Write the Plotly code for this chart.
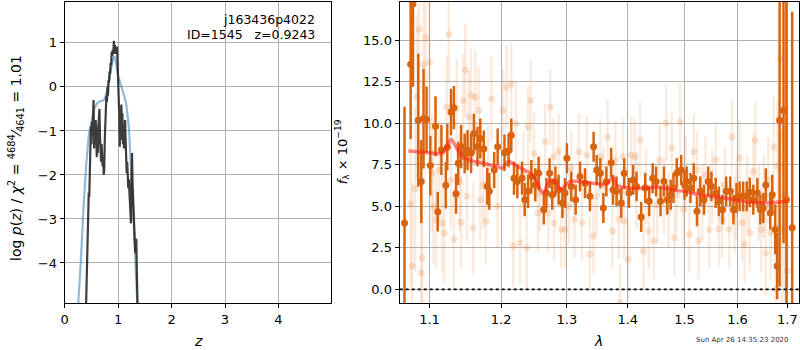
import plotly.graph_objects as go

# ---------------- Left panel: p(z) ----------------
z_fit = [0.20, 0.26, 0.30, 0.35, 0.40, 0.45, 0.50, 0.55, 0.60, 0.65, 0.70, 0.75, 0.80,
         0.85, 0.90, 0.93, 0.96, 1.00, 1.05, 1.10, 1.15, 1.20, 1.25, 1.30, 1.35, 1.40]
logp_fit = [-6.0, -4.9, -4.0, -2.8, -1.8, -1.1, -0.75, -0.5, -0.38, -0.33, -0.32, -0.28, -0.05,
            0.3, 0.62, 0.70, 0.55, 0.25, 0.02, -0.15, -0.37, -0.9, -2.0, -3.3, -4.6, -6.0]

z_chi = [0.38, 0.40, 0.42, 0.43, 0.44, 0.45, 0.46, 0.47, 0.48, 0.49, 0.50, 0.51, 0.52, 0.53,
         0.54, 0.55, 0.56, 0.57, 0.58, 0.59, 0.60, 0.61, 0.62, 0.63, 0.64, 0.65, 0.66, 0.67,
         0.68, 0.69, 0.70, 0.71, 0.72, 0.73, 0.74, 0.75, 0.76, 0.77, 0.78, 0.79, 0.80, 0.81,
         0.82, 0.83, 0.84, 0.85, 0.86, 0.87, 0.88, 0.89, 0.90, 0.91, 0.92, 0.93, 0.94, 0.95,
         0.96, 0.97, 0.98, 0.99, 1.00, 1.01, 1.02, 1.03, 1.04, 1.05, 1.06, 1.07, 1.08, 1.09,
         1.10, 1.11, 1.12, 1.13, 1.14, 1.15, 1.16, 1.17, 1.18, 1.19, 1.20, 1.21, 1.22, 1.23,
         1.24, 1.25, 1.26, 1.27, 1.28, 1.29, 1.30, 1.31, 1.32, 1.33, 1.34, 1.35, 1.36, 1.37, 1.38]
logp_chi = [-6.0, -4.9, -3.6, -2.8, -2.9, -2.4, -2.5, -1.6, -1.2, -0.9, -1.3, -0.8, -1.1, -0.6,
            -0.3, -1.4, -0.9, -1.2, -0.75, -1.0, -1.6, -1.2, -1.5, -0.9, -0.6, -0.5, -1.1, -1.5,
            -1.7, -1.3, -1.5, -1.8, -1.6, -2.0, -1.9, -1.2, -0.75, -0.4, -0.2, -0.35, 0.0, -0.2,
            0.15, 0.1, 0.35, 0.3, 0.55, 0.5, 0.8, 0.7, 0.85, 0.75, 1.05, 0.85, 0.95, 0.75,
            0.9, 0.8, 0.92, 0.6, 0.3, 0.15, -0.6, -1.36, -0.8, -1.2, -0.4, -0.9, -0.6, -1.3,
            -1.0, -1.4, -0.9, -0.75, -1.2, -1.6, -1.96, -1.7, -2.0, -2.3, -2.1, -2.4, -2.8, -2.7,
            -3.1, -2.0, -1.5, -2.2, -2.6, -2.9, -3.3, -3.6, -3.77, -3.5, -3.45, -4.2, -4.6, -5.0, -6.0]

zticks = [0, 1, 2, 3, 4]
pticks = [-4, -3, -2, -1, 0, 1]

# ---------------- Right panel: spectrum ----------------
wave_model = [1.072, 1.099, 1.117, 1.124, 1.129, 1.136, 1.144, 1.153, 1.171, 1.195, 1.202, 1.210,
              1.217, 1.229, 1.244, 1.254, 1.260, 1.264, 1.269, 1.275, 1.282, 1.290, 1.296, 1.305,
              1.320, 1.342, 1.365, 1.371, 1.376, 1.380, 1.390, 1.400, 1.430, 1.453, 1.477, 1.500,
              1.525, 1.550, 1.575, 1.600, 1.627, 1.653, 1.680, 1.700]
flux_model = [8.33, 8.23, 8.19, 8.59, 9.02, 8.59, 7.99, 7.79, 7.63, 7.39, 7.29, 7.69,
              7.59, 7.29, 6.99, 6.49, 5.90, 5.80, 6.29, 6.59, 6.43, 6.00, 6.20, 6.49,
              6.49, 6.39, 6.35, 6.59, 6.69, 6.29, 6.16, 6.10, 6.10, 6.16, 6.00, 5.90,
              5.70, 5.60, 5.50, 5.36, 5.24, 5.20, 5.24, 5.30]

wave_bin = [1.067, 1.075, 1.078, 1.085, 1.089, 1.092, 1.096, 1.101, 1.108, 1.111, 1.116, 1.122,
            1.124, 1.129, 1.133, 1.136, 1.139, 1.143, 1.148, 1.152, 1.157, 1.161, 1.166, 1.170,
            1.175, 1.180, 1.183, 1.190, 1.195, 1.205, 1.211, 1.215, 1.219, 1.224, 1.231, 1.235,
            1.240, 1.245, 1.251, 1.256, 1.264, 1.268, 1.273, 1.277, 1.282, 1.287, 1.293, 1.297,
            1.300, 1.307, 1.314, 1.321, 1.329, 1.337, 1.343, 1.348, 1.354, 1.359, 1.364, 1.372,
            1.375, 1.381, 1.389, 1.394, 1.402, 1.409, 1.415, 1.423, 1.430, 1.437, 1.443, 1.449,
            1.457, 1.463, 1.469, 1.475, 1.480, 1.486, 1.494, 1.500, 1.504, 1.511, 1.517, 1.523,
            1.529, 1.536, 1.544, 1.550, 1.558, 1.564, 1.571, 1.578, 1.586, 1.592, 1.598, 1.604,
            1.611, 1.618, 1.624, 1.631, 1.639, 1.645, 1.651, 1.656, 1.665, 1.669, 1.675, 1.679,
            1.684, 1.692, 1.698, 1.710]
flux_bin = [4.0, 13.56, 17.2, 10.18, 6.49, 10.28, 10.22, 7.45, 9.82, 4.68, 8.39, 6.27,
            8.55, 10.68, 10.94, 5.76, 7.59, 8.59, 8.19, 8.39, 8.19, 9.38, 8.59, 9.08,
            8.47, 6.20, 5.90, 7.19, 8.59, 8.23, 8.35, 9.28, 6.69, 6.49, 6.69, 5.40,
            5.90, 6.79, 6.29, 6.99, 4.80, 5.80, 6.99, 5.70, 6.49, 6.00, 5.20, 5.80,
            7.89, 6.20, 5.40, 6.79, 6.39, 5.60, 8.59, 7.19, 6.99, 4.90, 6.49, 7.63,
            6.00, 5.90, 5.20, 6.99, 5.80, 6.59, 6.20, 4.36, 6.10, 5.30, 6.69, 6.49,
            5.30, 6.49, 5.40, 5.70, 6.10, 6.99, 7.19, 6.29, 6.49, 6.10, 6.69, 4.70,
            5.90, 5.40, 6.49, 6.20, 5.80, 5.30, 4.80, 5.90, 5.90, 4.80, 5.50, 5.60,
            5.60, 5.60, 5.84, 5.40, 5.80, 4.80, 4.90, 6.29, 4.60, 5.70, 3.61, 1.41,
            10.18, 10.78, 5.40, 3.71]
err_bin = [7.0, 4.5, 5.0, 4.0, 2.5, 3.0, 2.0, 1.8, 1.8, 1.2, 1.5, 1.4,
           1.4, 1.4, 1.3, 1.2, 1.3, 1.3, 1.2, 1.2, 1.2, 1.2, 1.2, 1.2,
           1.1, 1.1, 1.1, 1.1, 1.1, 1.1, 1.0, 1.0, 1.0, 1.0, 1.0, 1.0,
           1.0, 1.0, 1.0, 1.0, 0.9, 0.9, 0.9, 0.9, 0.9, 0.9, 0.9, 0.9,
           0.9, 0.9, 0.9, 0.9, 0.9, 0.9, 0.9, 0.9, 0.9, 0.9, 0.9, 0.9,
           0.9, 0.9, 0.9, 0.9, 0.9, 0.9, 0.9, 0.9, 0.9, 0.9, 0.9, 0.9,
           0.9, 0.9, 0.9, 0.9, 0.9, 0.9, 0.9, 0.9, 0.9, 0.9, 0.9, 0.9,
           0.9, 0.9, 0.9, 0.9, 0.9, 0.9, 0.9, 0.9, 0.9, 0.9, 0.9, 0.9,
           0.9, 0.9, 0.9, 0.9, 0.9, 0.9, 0.9, 1.0, 1.0, 1.2, 1.5, 2.0,
           10.0, 8.0, 12.0, 13.0]

wave_raw = [1.075, 1.077, 1.081, 1.083, 1.086, 1.089, 1.090, 1.092, 1.095, 1.100, 1.103, 1.105,
            1.109, 1.113, 1.117, 1.120, 1.123, 1.126, 1.129, 1.133, 1.137, 1.141, 1.143, 1.146,
            1.149, 1.151, 1.154, 1.157, 1.160, 1.163, 1.168, 1.170, 1.174, 1.178, 1.181, 1.186,
            1.195, 1.203, 1.208, 1.215, 1.218, 1.222, 1.228, 1.233, 1.238, 1.240, 1.244, 1.249,
            1.255, 1.258, 1.266, 1.271, 1.274, 1.279, 1.280, 1.287, 1.291, 1.297, 1.303, 1.307,
            1.312, 1.319, 1.324, 1.332, 1.337, 1.343, 1.348, 1.354, 1.359, 1.366, 1.374, 1.379,
            1.385, 1.387, 1.392, 1.394, 1.401, 1.406, 1.412, 1.415, 1.421, 1.427, 1.431, 1.436,
            1.445, 1.451, 1.455, 1.463, 1.467, 1.471, 1.477, 1.482, 1.486, 1.492, 1.498, 1.502,
            1.509, 1.517, 1.523, 1.526, 1.533, 1.539, 1.546, 1.551, 1.558, 1.564, 1.570, 1.576,
            1.584, 1.589, 1.594, 1.598, 1.604, 1.609, 1.614, 1.619, 1.624, 1.631, 1.635, 1.642,
            1.647, 1.652, 1.656, 1.661, 1.666, 1.672, 1.676, 1.680, 1.685, 1.688, 1.693, 1.700]
flux_raw = [5.16, 1.41, 6.04, 11.57, 15.66, 1.0, 1.91, 13.56, 15.16, 13.67, 7.0, 5.0,
            4.2, 7.19, 4.0, 3.41, 10.98, 15.36, 6.59, 3.0, 10.88, 6.49, 4.04, 11.37,
            13.2, 5.6, 10.38, 11.67, 3.71, 11.57, 10.78, 5.4, 6.29, 4.1, 7.39, 11.47,
            5.0, 10.78, 12.17, 12.37, 2.61, 9.98, 2.81, 6.99, 2.51, 9.78, 11.37, 8.19,
            4.60, 5.80, 8.88, 4.60, 10.98, 7.99, 4.0, 8.29, 3.61, 3.61, 5.0, 7.29,
            4.2, 8.29, 4.0, 8.09, 2.11, 3.21, 5.60, 7.99, 6.29, 9.18, 3.51, 7.79,
            4.2, -0.78, 7.99, 4.1, 1.81, 8.09, 7.99, 6.0, 8.98, 2.31, 6.20, 3.51,
            2.91, 5.10, 7.79, 5.60, 10.02, 4.80, 8.49, 3.11, 5.70, 10.08, 4.80, 6.99,
            3.31, 8.29, 7.19, 2.91, 5.20, 6.89, 3.61, 6.20, 7.79, 3.65, 4.20, 6.29,
            3.61, 9.18, 4.50, 5.30, 7.89, 4.0, 2.71, 5.80, 3.41, 7.09, 8.98, 5.20,
            3.61, 5.60, 2.21, 6.59, 3.41, 8.59, 0.0, 7.43, 13.86, 3.61, 5.60, 1.12]
err_raw = [5.0, 5.0, 5.0, 5.0, 5.0, 4.5, 4.5, 4.5, 4.0, 4.0, 3.5, 3.5,
           3.0, 3.0, 3.0, 3.0, 3.0, 3.0, 3.0, 3.0, 3.0, 3.0, 2.8, 2.8,
           2.8, 2.8, 2.8, 2.8, 2.8, 2.8, 2.6, 2.6, 2.6, 2.6, 2.6, 2.6,
           2.5, 2.5, 2.5, 2.5, 2.5, 2.5, 2.5, 2.5, 2.5, 2.5, 2.5, 2.5,
           2.3, 2.3, 2.3, 2.3, 2.3, 2.3, 2.3, 2.3, 2.3, 2.3, 2.3, 2.3,
           2.3, 2.3, 2.3, 2.3, 2.3, 2.3, 2.3, 2.3, 2.3, 2.3, 2.3, 2.3,
           2.3, 2.3, 2.3, 2.3, 2.3, 2.3, 2.3, 2.3, 2.3, 2.3, 2.3, 2.3,
           2.3, 2.3, 2.3, 2.3, 2.3, 2.3, 2.3, 2.3, 2.3, 2.3, 2.3, 2.3,
           2.3, 2.3, 2.3, 2.3, 2.3, 2.3, 2.3, 2.3, 2.3, 2.3, 2.3, 2.3,
           2.3, 2.3, 2.3, 2.3, 2.3, 2.3, 2.3, 2.3, 2.3, 2.3, 2.3, 2.3,
           2.5, 2.5, 2.6, 2.6, 2.8, 3.0, 3.5, 4.0, 5.0, 6.0, 8.0, 10.0]

wticks = [1.1, 1.2, 1.3, 1.4, 1.5, 1.6, 1.7]
fticks = [0.0, 2.5, 5.0, 7.5, 10.0, 12.5, 15.0]

FONT = "DejaVu Sans"
DARK = "#d9640f"

fig = go.Figure()

# left panel
fig.add_trace(go.Scatter(x=z_fit, y=logp_fit, mode="lines",
                         line=dict(color="rgba(31,119,180,0.5)", width=2.2),
                         xaxis="x", yaxis="y", hoverinfo="skip"))
fig.add_trace(go.Scatter(x=z_chi, y=logp_chi, mode="lines",
                         line=dict(color="rgba(40,40,40,0.9)", width=2.2),
                         xaxis="x", yaxis="y", hoverinfo="skip"))

# right panel
fig.add_trace(go.Scatter(x=wave_raw, y=flux_raw, mode="markers",
                         marker=dict(color="rgba(230,120,40,0.2)", size=7),
                         error_y=dict(type="data", array=err_raw, color="rgba(230,120,40,0.15)",
                                      thickness=2.5, width=0),
                         xaxis="x2", yaxis="y2", hoverinfo="skip"))
fig.add_trace(go.Scatter(x=wave_bin, y=flux_bin, mode="markers",
                         marker=dict(color=DARK, size=7),
                         error_y=dict(type="data", array=err_bin, color=DARK,
                                      thickness=2.5, width=0),
                         xaxis="x2", yaxis="y2", hoverinfo="skip"))
fig.add_trace(go.Scatter(x=wave_model, y=flux_model, mode="lines",
                         line=dict(color="rgba(255,30,20,0.55)", width=3.5, shape="spline"),
                         xaxis="x2", yaxis="y2", hoverinfo="skip"))

axis_common = dict(showline=True, mirror=True, linecolor="black", linewidth=1.2,
                   ticks="outside", ticklen=4, tickwidth=1, tickcolor="black",
                   showgrid=True, gridcolor="#b0b0b0", gridwidth=1, zeroline=False,
                   tickfont=dict(family=FONT, size=13, color="black"))

fig.update_layout(
    width=800, height=350,
    margin=dict(l=0, r=0, t=2, b=47),
    paper_bgcolor="white", plot_bgcolor="white",
    showlegend=False,
    xaxis=dict(domain=[61/800, 329/800], range=[0, 4.99], tickvals=zticks, **axis_common),
    yaxis=dict(domain=[0, 1], range=[-4.91, 1.93], tickvals=pticks,
               ticktext=["\u22124", "\u22123", "\u22122", "\u22121", "0", "1"], **axis_common),
    xaxis2=dict(domain=[397.7/800, 799/800], type="log", range=[0.02562, 0.2366],
                tickvals=wticks, ticktext=["1.1", "1.2", "1.3", "1.4", "1.5", "1.6", "1.7"],
                anchor="y2", **axis_common),
    yaxis2=dict(domain=[0, 1], range=[-0.82, 17.3], tickvals=fticks,
                ticktext=["0.0", "2.5", "5.0", "7.5", "10.0", "12.5", "15.0"],
                anchor="x2", **axis_common),
)

# zero line
fig.add_shape(type="line", xref="x2 domain", yref="y2", x0=0, x1=1, y0=0, y1=0,
              line=dict(color="black", width=1.6, dash="dot"))

ann = []
ann.append(dict(text="j163436p4022", x=315/800, y=1 - (20 - 2)/301, xref="paper", yref="paper",
                xanchor="right", yanchor="middle", showarrow=False,
                font=dict(family=FONT, size=12.5, color="black")))
ann.append(dict(text="ID=1545   z=0.9243", x=315/800, y=1 - (34 - 2)/301, xref="paper", yref="paper",
                xanchor="right", yanchor="middle", showarrow=False,
                font=dict(family=FONT, size=12.5, color="black")))
ann.append(dict(text="<i>z</i>", x=195/800, y=-38/301, xref="paper", yref="paper",
                xanchor="center", yanchor="middle", showarrow=False,
                font=dict(family=FONT, size=14, color="black")))
ann.append(dict(text="<i>λ</i>", x=597/800, y=-38/301, xref="paper", yref="paper",
                xanchor="center", yanchor="middle", showarrow=False,
                font=dict(family=FONT, size=14, color="black")))
ann.append(dict(text="log <i>p</i>(<i>z</i>) / <i>χ</i><sup>2</sup> = <sup>4684</sup>\u2044<sub>4641</sub> = 1.01",
                x=12/800, y=1 - (158 - 2)/301, xref="paper", yref="paper", textangle=-90,
                xanchor="center", yanchor="middle", showarrow=False,
                font=dict(family=FONT, size=14, color="black")))
ann.append(dict(text="<i>f</i><sub>λ</sub> × 10<sup>\u221219</sup>",
                x=340/800, y=1 - (152 - 2)/301, xref="paper", yref="paper", textangle=-90,
                xanchor="center", yanchor="middle", showarrow=False,
                font=dict(family=FONT, size=13, color="black")))
ann.append(dict(text="Sun Apr 26 14:35:23 2020", x=742/800, y=-37/301, xref="paper", yref="paper",
                xanchor="center", yanchor="middle", showarrow=False,
                font=dict(family=FONT, size=7, color="#333333")))
fig.update_layout(annotations=ann)

fig.write_html("out.html", config={"displayModeBar": False},
               post_script="document.body.style.margin='0';document.body.style.padding='0';")
